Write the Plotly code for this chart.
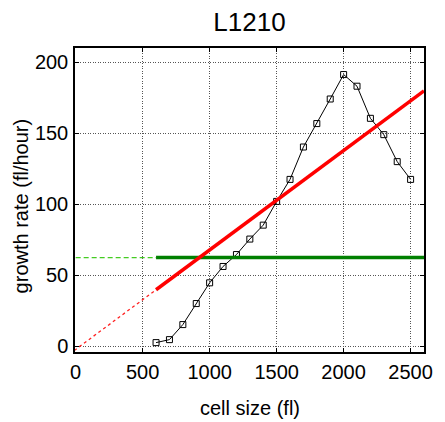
import plotly.graph_objects as go

cell_size = [600, 700, 800, 900, 1000, 1100, 1200, 1300, 1400, 1500,
             1600, 1700, 1800, 1900, 2000, 2100, 2200, 2300, 2400, 2500]
growth_rate = [2.6, 4.7, 15.3, 30.1, 44.7, 56.2, 64.6, 75.5, 85.3, 102,
               117.5, 140.3, 156.8, 174.1, 191.3, 183.1, 160.5, 149, 130, 117.5]

fit_slope = 0.07
fit_intercept = -2.2
fit_x_dashed = [-10, 600]
fit_x_solid = [600, 2600]
const_rate = 62.5
const_x_dashed = [0, 600]
const_x_solid = [600, 2600]

fig = go.Figure()
fig.add_trace(go.Scatter(x=const_x_dashed, y=[const_rate] * 2, mode="lines",
                         line=dict(color="#44cc22", width=1.2, dash="5px,3px"), showlegend=False))
fig.add_trace(go.Scatter(x=fit_x_dashed, y=[fit_slope * x + fit_intercept for x in fit_x_dashed],
                         mode="lines", line=dict(color="#ff2020", width=1.3, dash="3px,3px"), showlegend=False))
fig.add_trace(go.Scatter(x=cell_size, y=growth_rate, mode="lines+markers",
                         line=dict(color="black", width=1),
                         marker=dict(symbol="square-open", size=6, color="black", line=dict(width=1)),
                         showlegend=False))
fig.add_trace(go.Scatter(x=const_x_solid, y=[const_rate] * 2, mode="lines",
                         line=dict(color="#008000", width=3.5), showlegend=False))
fig.add_trace(go.Scatter(x=fit_x_solid, y=[fit_slope * x + fit_intercept for x in fit_x_solid],
                         mode="lines", line=dict(color="#ff0000", width=3.5), showlegend=False))

font = "Liberation Sans, Arial, sans-serif"
axis_common = dict(showline=True, linecolor="black", linewidth=1.5, mirror="ticks",
                   ticks="inside", ticklen=4, tickcolor="black",
                   showgrid=True, gridcolor="#555", griddash="1px,1.5px", gridwidth=1,
                   zeroline=False, tickfont=dict(size=20, color="black", family=font))
fig.update_xaxes(range=[-5, 2600], tickvals=[0, 500, 1000, 1500, 2000, 2500],
                 ticklabelstandoff=1, **axis_common)
fig.update_yaxes(range=[-4, 210], tickvals=[0, 50, 100, 150, 200],
                 ticklabelstandoff=1, **axis_common)
fig.update_layout(width=445, height=422, margin=dict(l=75, r=12, t=48, b=70),
                  paper_bgcolor="white", plot_bgcolor="white",
                  title=dict(text="L1210", x=0.5, xref="paper", xanchor="center",
                             y=1 - 22 / 422, yref="container", yanchor="middle",
                             font=dict(size=26, color="black", family=font)))
fig.add_annotation(text="cell size (fl)", xref="paper", yref="paper", x=0.5,
                   y=-(408 - 352) / 304, xanchor="center", yanchor="middle", showarrow=False,
                   font=dict(size=20, color="black", family=font))
fig.add_annotation(text="growth rate (fl/hour)", xref="paper", yref="paper",
                   x=-(75 - 20) / 358, y=(352 - 206) / 304, xanchor="center", yanchor="middle",
                   textangle=-90, showarrow=False,
                   font=dict(size=20, color="black", family=font))
fig.write_html("out.html")
